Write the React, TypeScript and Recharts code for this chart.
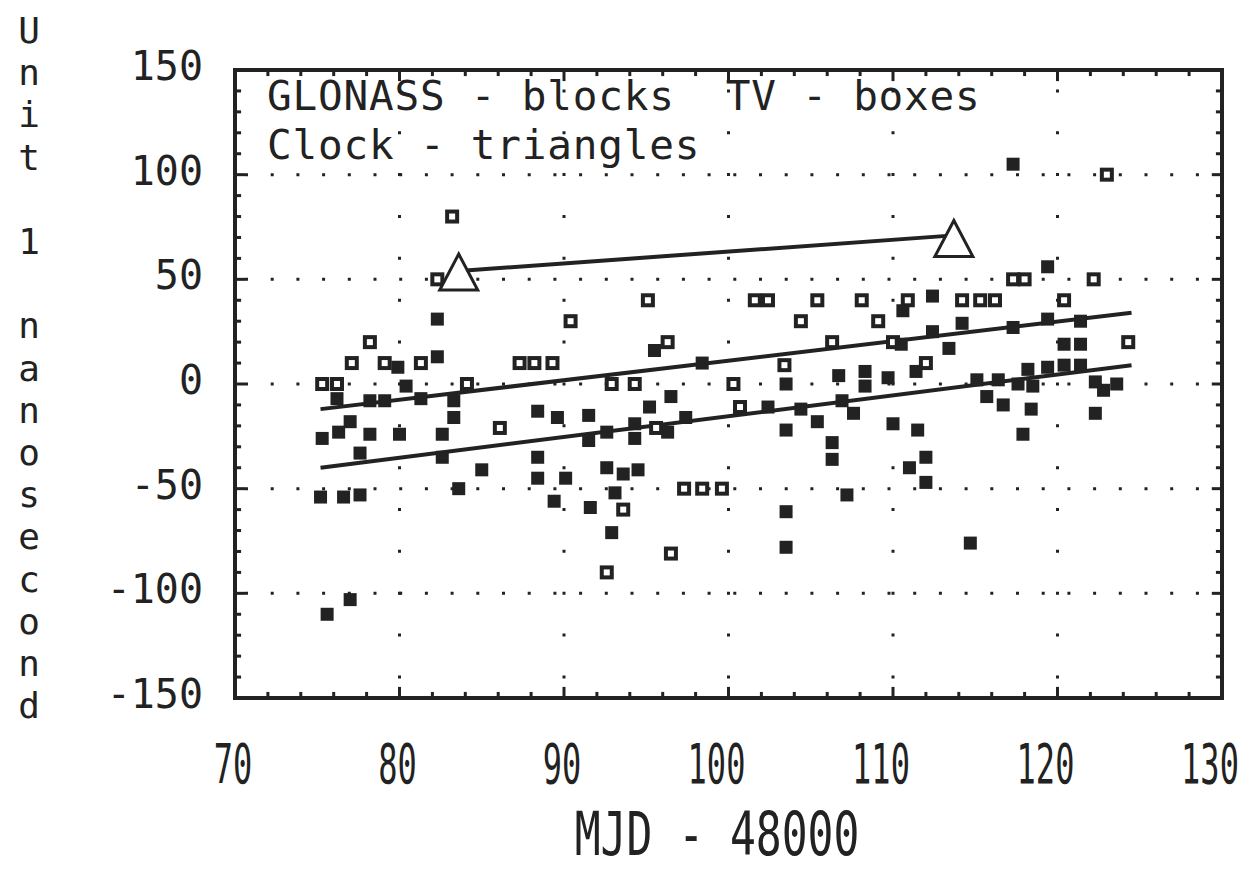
import React from 'react';
import { ComposedChart, Scatter, XAxis, YAxis, CartesianGrid, ReferenceArea, ReferenceLine, Customized } from 'recharts';

const INK = '#222';
const FONT = '"DejaVu Sans Mono", monospace';

const xTicks = [70, 80, 90, 100, 110, 120, 130];
const yTicks = [-150, -100, -50, 0, 50, 100, 150];
const xMinorTicks = [72, 74, 76, 78, 82, 84, 86, 88, 92, 94, 96, 98, 102, 104, 106, 108, 112, 114, 116, 118, 122, 124, 126, 128];
const xMajorTicks = [80, 90, 100, 110, 120];
const yMinorTicks = [-140, -130, -120, -110, -90, -80, -70, -60, -40, -30, -20, -10, 10, 20, 30, 40, 60, 70, 80, 90, 110, 120, 130, 140];
const yMajorTicks = [-100, -50, 0, 50, 100];

// GLONASS - blocks
const glonass: [number, number][] = [
  [75.3, -26], [75.2, -54], [75.6, -110], [76.2, -7], [76.3, -23], [76.6, -54], [77.0, -18], [77.0, -103],
  [77.6, -33], [77.6, -53], [78.2, -8], [78.2, -24], [79.1, -8], [79.9, 8], [80.0, -24], [80.4, -1],
  [81.3, -7], [82.3, 31], [82.3, 13], [82.6, -24], [82.6, -35], [83.3, -8], [83.3, -16], [83.6, -50],
  [85.0, -41], [88.4, -13], [89.6, -16], [88.4, -35], [88.4, -45], [89.4, -56], [90.1, -45], [91.5, -15],
  [91.5, -27], [91.6, -59], [92.6, -23], [92.6, -40], [92.9, -71], [93.1, -52], [93.6, -43], [94.3, -19],
  [94.3, -26], [94.5, -41], [95.2, -11], [95.5, 16], [96.5, -6], [96.3, -23], [97.4, -16], [98.4, 10],
  [103.5, 0], [102.4, -11], [103.5, -22], [103.5, -61], [103.5, -78], [104.4, -12], [105.4, -18], [106.3, -28],
  [106.3, -36], [106.7, 4], [106.9, -8], [107.6, -14], [107.2, -53], [108.3, 6], [108.3, -1], [109.7, 3],
  [110.0, -19], [110.6, 35], [110.5, 19], [111.0, -40], [111.4, 6], [111.5, -22], [112.0, -35], [112.0, -47],
  [112.4, 42], [112.4, 25], [113.4, 17], [114.2, 29], [114.7, -76], [115.1, 2], [115.7, -6], [116.4, 2],
  [116.7, -10], [117.3, 27], [117.3, 105], [117.6, 0], [117.9, -24], [118.2, 7], [118.4, -12], [118.5, -1],
  [119.4, 31], [119.4, 8], [119.4, 56], [120.4, 19], [120.4, 9], [121.4, 30], [121.4, 19], [121.4, 9],
  [122.3, 1], [122.3, -14], [122.8, -3], [123.6, 0],
];

// TV - boxes
const tv: [number, number][] = [
  [75.3, 0], [76.2, 0], [77.1, 10], [78.2, 20], [79.1, 10], [81.3, 10], [82.3, 50], [83.2, 80],
  [84.1, 0], [86.1, -21], [87.3, 10], [88.2, 10], [89.3, 10], [90.4, 30], [92.6, -90], [92.9, 0],
  [93.6, -60], [94.3, 0], [95.1, 40], [95.6, -21], [96.3, 20], [96.5, -81], [97.3, -50], [98.4, -50],
  [99.6, -50], [100.3, 0], [100.7, -11], [101.6, 40], [102.4, 40], [103.4, 9], [104.4, 30], [105.4, 40],
  [106.3, 20], [108.1, 40], [109.1, 30], [110.0, 20], [110.9, 40], [112.0, 10], [114.2, 40], [115.3, 40],
  [116.2, 40], [117.3, 50], [118.0, 50], [120.4, 40], [122.2, 50], [123.0, 100], [124.3, 20],
];

// Clock - triangles
const clock: [number, number][] = [[83.6, 53], [113.7, 69]];

const fitUpper: [number, number][] = [[83.6, 54], [113.7, 71]];
const fitMiddle: [number, number][] = [[75.2, -12], [124.5, 34]];
const fitLower: [number, number][] = [[75.2, -40], [124.5, 9]];

const toPts = (arr: [number, number][]) => arr.map(([x, y]) => ({ x, y }));

const Block = (p: any) => <rect x={p.cx - 6.5} y={p.cy - 6.5} width={13} height={13} fill={INK} />;
const Box = (p: any) => (
  <rect x={p.cx - 5} y={p.cy - 5} width={10} height={10} fill="#fff" stroke={INK} strokeWidth={4} />
);
const Tri = (p: any) => (
  <polygon
    points={`${p.cx},${p.cy - 19} ${p.cx + 19},${p.cy + 17} ${p.cx - 19},${p.cy + 17}`}
    fill="#fff"
    stroke={INK}
    strokeWidth={3}
  />
);
const NoDot = () => <g />;

const XTick = ({ x, y, payload }: any) => {
  const label = String(payload.value);
  const dx = label.length > 2 ? -12 : -2;
  return (
    <g transform={`translate(${x + dx},${y})`}>
      <text transform="scale(1,1.7)" x={0} y={50} textAnchor="middle" fontFamily={FONT} fontSize={32} fill={INK}>
        {label}
      </text>
    </g>
  );
};

const YTick = ({ x, y, payload }: any) => (
  <text x={x} y={y + 10} textAnchor="end" fontFamily={FONT} fontSize={40} fill={INK}>
    {String(payload.value)}
  </text>
);

const yLabel = 'Unit 1 nanosecond';

const Annotations = () => (
  <g fontFamily={FONT} fill={INK}>
    <text x={267} y={110} fontSize={41} letterSpacing={0.8} xmlSpace="preserve" style={{ whiteSpace: 'pre' }}>
      GLONASS - blocks  TV - boxes
    </text>
    <text x={267} y={159} fontSize={41} letterSpacing={0.8} xmlSpace="preserve" style={{ whiteSpace: 'pre' }}>
      Clock - triangles
    </text>
    {yLabel.split('').map((ch, i) => (
      <text key={i} x={29} y={30 + i * 42.2 + 13} fontSize={36} textAnchor="middle">
        {ch}
      </text>
    ))}
    <g transform="translate(717,855)">
      <text transform="scale(1,1.4)" x={0} y={0} textAnchor="middle" fontSize={43}>
        MJD - 48000
      </text>
    </g>
  </g>
);

// tick lengths along the frame, in data units (about 6 px minor, 11 px major)
const xMinorLen = 2.9;
const xMajorLen = 5.3;
const yMinorLen = 0.37;
const yMajorLen = 0.62;

const frameTick = (key: string, a: { x: number; y: number }, b: { x: number; y: number }) => (
  <ReferenceLine key={key} segment={[a, b]} stroke={INK} strokeWidth={3} ifOverflow="visible" />
);

export default function App() {
  return (
    <div style={{ position: 'absolute', left: 0, top: 0, width: 1251, height: 870, background: '#fff' }}>
      <ComposedChart width={1251} height={870} margin={{ top: 70, right: 29, bottom: 72, left: 0 }}>
        <CartesianGrid
          horizontal
          vertical={false}
          stroke={INK}
          strokeWidth={3}
          strokeDasharray="3 22.7"
          strokeDashoffset={-10}
        />
        <CartesianGrid
          horizontal={false}
          vertical
          stroke={INK}
          strokeWidth={3}
          strokeDasharray="3 38.86"
          strokeDashoffset={-19.4}
        />
        <XAxis
          dataKey="x"
          type="number"
          domain={[70, 130]}
          ticks={xTicks}
          height={100}
          tickSize={0}
          tickMargin={0}
          tickLine={false}
          axisLine={false}
          tick={<XTick />}
          interval={0}
        />
        <YAxis
          dataKey="y"
          type="number"
          domain={[-150, 150]}
          ticks={yTicks}
          width={235}
          tickSize={0}
          tickMargin={32}
          tickLine={false}
          axisLine={false}
          tick={<YTick />}
          interval={0}
        />
        {xMinorTicks.map((v) => frameTick(`bm${v}`, { x: v, y: -150 }, { x: v, y: -150 + xMinorLen }))}
        {xMinorTicks.map((v) => frameTick(`tm${v}`, { x: v, y: 150 }, { x: v, y: 150 - xMinorLen }))}
        {xMajorTicks.map((v) => frameTick(`bM${v}`, { x: v, y: -150 }, { x: v, y: -150 + xMajorLen }))}
        {xMajorTicks.map((v) => frameTick(`tM${v}`, { x: v, y: 150 }, { x: v, y: 150 - xMajorLen }))}
        {yMinorTicks.map((v) => frameTick(`lm${v}`, { x: 70, y: v }, { x: 70 + yMinorLen, y: v }))}
        {yMinorTicks.map((v) => frameTick(`rm${v}`, { x: 130, y: v }, { x: 130 - yMinorLen, y: v }))}
        {yMajorTicks.map((v) => frameTick(`lM${v}`, { x: 70, y: v }, { x: 70 + yMajorLen, y: v }))}
        {yMajorTicks.map((v) => frameTick(`rM${v}`, { x: 130, y: v }, { x: 130 - yMajorLen, y: v }))}
        <ReferenceArea x1={70} x2={130} y1={-150} y2={150} fill="none" fillOpacity={0} stroke={INK} strokeWidth={4} ifOverflow="visible" />
        <Scatter data={toPts(fitUpper)} line={{ stroke: INK, strokeWidth: 4 }} shape={NoDot} legendType="none" isAnimationActive={false} />
        <Scatter data={toPts(fitMiddle)} line={{ stroke: INK, strokeWidth: 4 }} shape={NoDot} legendType="none" isAnimationActive={false} />
        <Scatter data={toPts(fitLower)} line={{ stroke: INK, strokeWidth: 4 }} shape={NoDot} legendType="none" isAnimationActive={false} />
        <Scatter data={toPts(tv)} shape={Box} isAnimationActive={false} />
        <Scatter data={toPts(glonass)} shape={Block} isAnimationActive={false} />
        <Scatter data={toPts(clock)} shape={Tri} isAnimationActive={false} />
        <Customized component={Annotations} />
      </ComposedChart>
    </div>
  );
}
